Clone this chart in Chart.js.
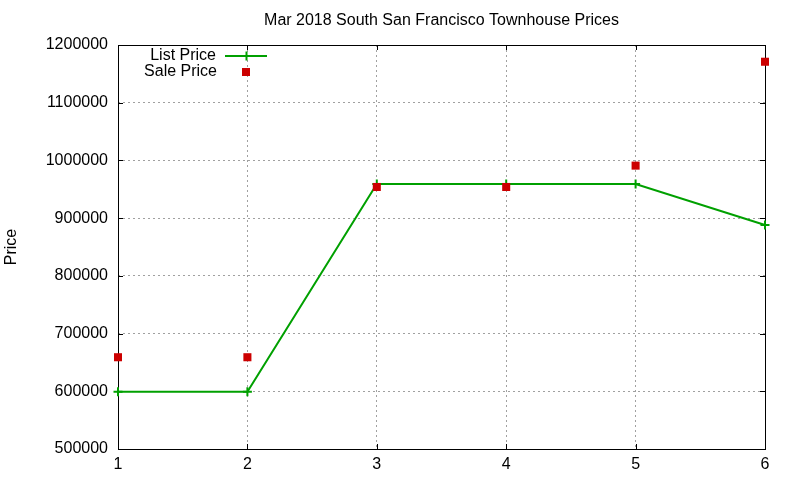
<!DOCTYPE html>
<html>
<head>
<meta charset="utf-8">
<script src="https://cdn.jsdelivr.net/npm/chart.js@4/dist/chart.umd.min.js"></script>
<style>
  html, body { margin: 0; padding: 0; background: #fff; }
  #wrap { width: 800px; height: 480px; }
</style>
</head>
<body>
<div id="wrap"><canvas id="prices"></canvas></div>
<script>
// data
const sales = [1, 2, 3, 4, 5, 6];
const listPrice = [599000, 599000, 959000, 959000, 959000, 888000];
const salePrice = [659000, 659000, 954000, 954000, 991000, 1171000];
const yTicks = [500000, 600000, 700000, 800000, 900000, 1000000, 1100000, 1200000];

const titleText = 'Mar 2018 South San Francisco Townhouse Prices';
const FONT = '"Liberation Sans", Arial, sans-serif';
const GREEN = '#00a000';
const RED = '#cc0000';

Chart.defaults.font.family = FONT;
Chart.defaults.font.size = 16;
Chart.defaults.color = '#000';

// gnuplot look: box border, inward ticks on all four sides, title over plot, legend inside
const gnuplotFrame = {
  id: 'gnuplotFrame',
  beforeDatasetsDraw(chart) {
    const { ctx, chartArea: a, scales } = chart;
    const tk = 5;
    ctx.save();
    ctx.strokeStyle = '#000';
    ctx.lineWidth = 1;
    ctx.beginPath();
    yTicks.forEach(v => {
      const y = Math.round(scales.y.getPixelForValue(v)) + 0.5;
      ctx.moveTo(a.left, y); ctx.lineTo(a.left + tk, y);
      ctx.moveTo(a.right, y); ctx.lineTo(a.right - tk, y);
    });
    sales.forEach(v => {
      const x = Math.round(scales.x.getPixelForValue(v)) + 0.5;
      ctx.moveTo(x, a.bottom); ctx.lineTo(x, a.bottom - tk);
      ctx.moveTo(x, a.top); ctx.lineTo(x, a.top + tk);
    });
    ctx.stroke();
    ctx.strokeRect(Math.round(a.left) + 0.5, Math.round(a.top) + 0.5,
      Math.round(a.right - a.left), Math.round(a.bottom - a.top));
    ctx.restore();
  },
  afterDraw(chart) {
    const { ctx, chartArea: a } = chart;
    ctx.save();
    ctx.fillStyle = '#000';
    ctx.font = '16px ' + FONT;
    ctx.textAlign = 'center';
    ctx.textBaseline = 'middle';
    ctx.fillText(titleText, (a.left + a.right) / 2, 21);

    // legend
    ctx.textAlign = 'right';
    ctx.fillText('List Price', 216, 56);
    ctx.fillText('Sale Price', 217, 72);
    ctx.strokeStyle = GREEN;
    ctx.lineWidth = 2;
    ctx.beginPath();
    ctx.moveTo(225, 56); ctx.lineTo(267, 56);
    ctx.moveTo(246.5, 51.5); ctx.lineTo(246.5, 60.5);
    ctx.stroke();
    ctx.fillStyle = RED;
    ctx.fillRect(242, 68, 8, 8);
    ctx.restore();
  }
};

const ctx = document.getElementById('prices').getContext('2d');
const chart = new Chart(ctx, {
  type: 'line',
  data: {
    datasets: [{
      label: 'List Price',
      data: sales.map((s, i) => ({ x: s, y: listPrice[i] })),
      borderColor: GREEN,
      backgroundColor: GREEN,
      borderWidth: 2,
      pointStyle: 'cross',
      pointRadius: 4.5,
      pointBorderWidth: 2,
      tension: 0,
      clip: false,
      order: 2
    }, {
      label: 'Sale Price',
      data: sales.map((s, i) => ({ x: s, y: salePrice[i] })),
      showLine: false,
      borderColor: RED,
      backgroundColor: RED,
      pointStyle: 'rect',
      pointRadius: 5.7,
      pointBorderWidth: 0,
      clip: false,
      order: 1
    }]
  },
  plugins: [gnuplotFrame],
  options: {
    responsive: true,
    maintainAspectRatio: false,
    animation: false,
    layout: { padding: { top: 45, right: 35, left: 0, bottom: 0 } },
    plugins: {
      legend: { display: false },
      title: { display: false },
      tooltip: { enabled: false }
    },
    scales: {
      x: {
        type: 'linear',
        min: 1,
        max: 6,
        afterFit: s => { s.height = 31; },
        afterBuildTicks: s => { s.ticks = sales.map(v => ({ value: v })); },
        ticks: { padding: 6, color: '#000', font: { size: 16 } },
        grid: { color: '#a0a0a0', drawTicks: false, lineWidth: 1 },
        border: { display: false, dash: [2, 3] }
      },
      y: {
        min: 500000,
        max: 1200000,
        afterFit: s => { s.width = 118; },
        afterBuildTicks: s => { s.ticks = yTicks.map(v => ({ value: v })); },
        ticks: { padding: 10, color: '#000', font: { size: 16 }, callback: v => String(v) },
        grid: { color: '#a0a0a0', drawTicks: false, lineWidth: 1 },
        border: { display: false, dash: [2, 3] },
        title: { display: true, text: 'Price', color: '#000', font: { size: 16 }, padding: { top: 2, bottom: 0 } }
      }
    }
  }
});
</script>
</body>
</html>
